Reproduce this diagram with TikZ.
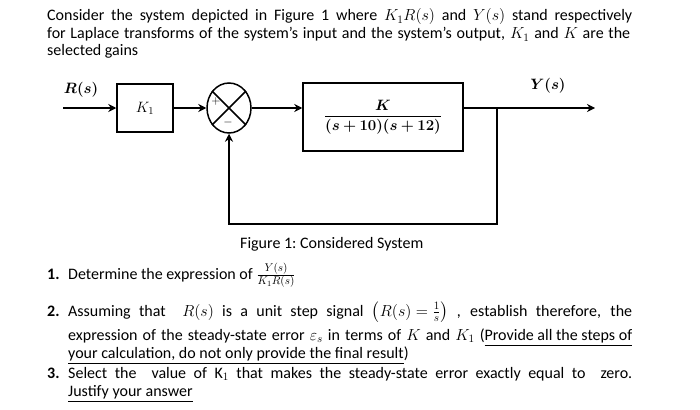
\RequirePackage{fix-cm}
\documentclass[tikz,border=0pt]{standalone}
\usepackage{amsmath}
\usepackage{bm}
\usepackage[no-math]{fontspec}
\setmainfont{Carlito}
\usepackage{tikz}
\usetikzlibrary{positioning,shapes.geometric,arrows.meta,calc}
\tikzset{
  ->,
  >={Stealth[length=8pt,width=8pt]},
  wire/.style={line width=1.5pt},
  sig/.style={wire,->},
  block/.style={draw,line width=1.5pt,inner sep=0pt,font=\fontsize{15}{18}\selectfont},
  sumnode/.style={draw,ellipse,line width=1.5pt,inner sep=0pt,minimum width=44pt,minimum height=50pt},
  txt/.style={anchor=base west,inner sep=0pt,font=\fontsize{16}{18}\selectfont},
  lbl/.style={inner sep=0pt,font=\fontsize{15}{16}\selectfont},
  sgn/.style={inner sep=0pt,font=\fontsize{12}{12}\selectfont}
}

\begin{document}
\begin{tikzpicture}[x=1pt,y=-1pt]
  \useasboundingbox (0,0) rectangle (700,409);

  % text above the figure
  \node[txt] (t1) at (47,21) {\makebox[585pt][s]{Consider the system depicted in Figure 1 where \mbox{$K_1R(s)$} and \mbox{$Y(s)$} stand respectively}};
  \node[txt] (t2) at (47,39) {\makebox[583pt][s]{for Laplace transforms of the system’s input and the system’s output, $K_1$ and $K$ are the}};
  \node[txt] (t3) at (47,56) {selected gains};

  % block diagram
  \node[block,minimum width=56pt,minimum height=48pt] (k1) at (145,108) {$K_1$};
  \node[sumnode] (sum) at (229,108) {};
  \node[block,minimum width=160pt,minimum height=68pt] (plant) at (383,117)
       {$\dfrac{\bm{K}}{\bm{(s+10)(s+12)}}$};
  \draw[wire,-] (sum.45) -- (sum.225) (sum.135) -- (sum.315);
  \node[sgn] (plus) at (216,102) {$+$};
  \node[sgn] (minus) at (228,122) {$-$};

  \coordinate (in) at (63,108);
  \coordinate (out) at (595,108);
  \coordinate (br) at (497,108);
  \coordinate (fb) at (497,224);
  \node[lbl] (rs) at (81,90) {$\bm{R(s)}$};
  \node[lbl] (ys) at (548,86) {$\bm{Y(s)}$};

  \draw[sig] (in) -- (k1);
  \draw[sig] (k1) -- (sum);
  \draw[sig] (sum.east) -- (sum.east -| plant.west);
  \draw[sig] (br -| plant.east) -- (out);
  \draw[sig] (br) -- (fb) -- (fb -| sum.south) -- (sum.south);

  % caption and questions
  \node[txt] (cap) at (240,248) {Figure 1:\ Considered System};

  \node[txt] (n1) at (47,279) {\textbf{1.}};
  \node[txt] (q1) at (68,279) {Determine the expression of $\frac{Y(s)}{K_1R(s)}$};

  \node[txt] (n2) at (47,316) {\textbf{2.}};
  \node[txt] (q2a) at (68,316) {\makebox[564pt][s]{Assuming that \ \mbox{$R(s)$} is a unit step signal \mbox{$\bigl(R(s)=\frac{1}{s}\bigr)$} , establish therefore, the}};
  \node[txt] (q2b) at (68,340) {\makebox[564pt][s]{expression of the steady-state error \mbox{$\varepsilon_s$} in terms of \mbox{$K$} and \mbox{$K_1$} (\underline{Provide all the steps of}}};
  \node[txt] (q2c) at (68,358) {\underline{your calculation, do not only provide the final result})};

  \node[txt] (n3) at (47,378) {\textbf{3.}};
  \node[txt] (q3a) at (68,378) {\makebox[564pt][s]{Select the \ value of K$_1$ that makes the steady-state error exactly equal to \ zero.}};
  \node[txt] (q3b) at (68,396) {\underline{Justify your answer}};
\end{tikzpicture}
\end{document}
